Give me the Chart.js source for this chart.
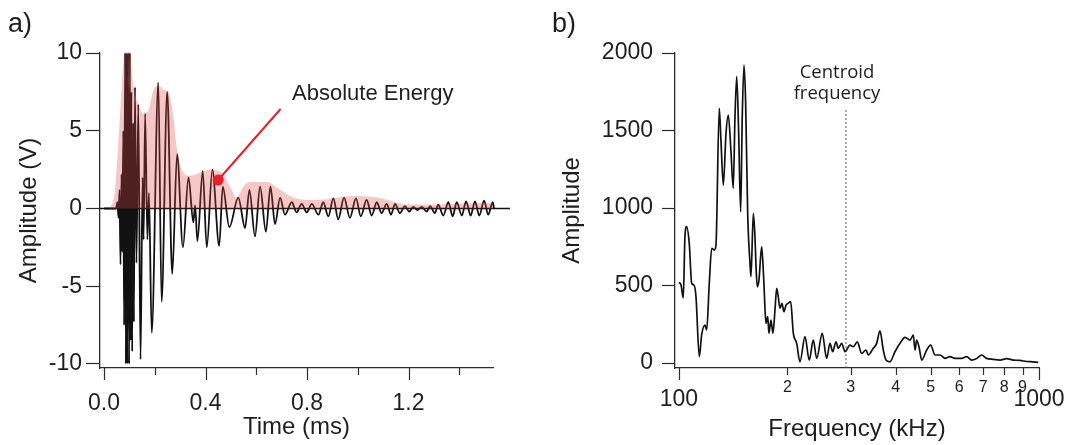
<!DOCTYPE html>
<html>
<head>
<meta charset="utf-8">
<title>Waveform and spectrum</title>
<script src="https://cdn.jsdelivr.net/npm/chart.js@4.4.1/dist/chart.umd.min.js"></script>
<style>
  html, body { margin: 0; padding: 0; background: #fff; }
  body { width: 1073px; height: 445px; position: relative; overflow: hidden;
         font-family: "Liberation Sans", Arial, sans-serif; color: #1e1e1e; }
  canvas { position: absolute; top: 0; }
  #chartA { left: 0; }
  #chartB { left: 540px; }
  .txt { position: absolute; white-space: nowrap; line-height: 1; }
  .panel-tag { font-size: 27px; top: 10px; }
  #energyLabel { left: 292px; top: 82px; font-size: 22px; }
  #centroidLabel { left: 777px; top: 60px; width: 120px; text-align: center;
                   font-family: "Open Sans", sans-serif; font-size: 18.5px; line-height: 21px; }
</style>
</head>
<body>
<canvas id="chartA" width="540" height="445"></canvas>
<canvas id="chartB" width="533" height="445"></canvas>
<div class="txt panel-tag" style="left:8px">a)</div>
<div class="txt panel-tag" style="left:552px">b)</div>
<div class="txt" id="energyLabel">Absolute Energy</div>
<div class="txt" id="centroidLabel">Centroid<br>frequency</div>
<script>
// ---- panel a: time signal (ms, V) ----
const waveTime = [0, 0.047, 0.053, 0.057, 0.061, 0.065, 0.069, 0.072, 0.076, 0.079,
  0.083, 0.086, 0.089, 0.092, 0.095, 0.099, 0.102, 0.105, 0.108, 0.111,
  0.115, 0.118, 0.122, 0.128, 0.135, 0.144, 0.152, 0.156, 0.162, 0.171,
  0.177, 0.188, 0.214, 0.227, 0.249, 0.269, 0.288, 0.311, 0.333, 0.352,
  0.359, 0.368, 0.389, 0.405, 0.427, 0.454, 0.468, 0.494, 0.529, 0.556,
  0.573, 0.595, 0.615, 0.638, 0.656, 0.674, 0.694, 0.713, 0.740, 0.759,
  0.779, 0.799, 0.819, 0.845, 0.864, 0.884, 0.904, 0.923, 0.946, 0.969,
  0.993, 1.012, 1.035, 1.055, 1.075, 1.094, 1.114, 1.131, 1.147, 1.166,
  1.186, 1.203, 1.219, 1.235, 1.252, 1.272, 1.285, 1.304, 1.317, 1.337,
  1.357, 1.374, 1.390, 1.410, 1.427, 1.445, 1.462, 1.479, 1.498, 1.514,
  1.532, 1.537];
const waveAmp = [0, 0, 0.4, -0.6, 1.2, -3.6, 2.2, -2.8, 5.0, -7.5,
  10, -10, 10, -10, 10, -10, 10, -8.5, 7.5, -9.2,
  5.5, -7.3, 7.8, -3.5, 6.7, -9.7, 2.0, -2.0, 6.1, -2.0,
  1.0, -8.0, 8.1, -6.0, 7.5, -4.2, 3.5, -2.5, 2.0, -0.9,
  0.2, -2.1, 2.4, -2.5, 2.5, -2.4, 1.4, -1.2, 0.7, -1.25,
  1.2, -1.8, 1.4, -1.5, 1.4, -1.0, 0.7, -0.4, 0.4, -0.25,
  0.3, -0.25, 0.3, -0.4, 0.4, -0.5, 0.65, -0.7, 0.7, -0.6,
  0.65, -0.5, 0.55, -0.45, 0.4, -0.3, 0.3, -0.4, 0.3, -0.3,
  0.15, -0.2, 0.1, -0.1, 0.1, -0.2, 0.15, -0.3, 0.25, -0.45,
  0.4, -0.5, 0.4, -0.45, 0.45, -0.45, 0.45, -0.45, 0.5, -0.4,
  0.4, 0];

// absolute energy envelope (shaded)
const envTime = [0.024, 0.043, 0.056, 0.070, 0.083, 0.102, 0.115, 0.135, 0.155, 0.175,
  0.194, 0.214, 0.240, 0.253, 0.273, 0.286, 0.306, 0.339, 0.378, 0.418,
  0.464, 0.497, 0.523, 0.549, 0.575, 0.641, 0.694, 0.746, 0.812, 0.878,
  0.982, 1.075, 1.140, 1.193, 1.298, 1.403, 1.534, 1.550];
const envAmp = [0, 1.1, 4.1, 7.8, 10, 10, 8.0, 6.7, 6.1, 6.3,
  7.6, 7.9, 7.6, 7.5, 6.0, 4.0, 2.5, 2.1, 2.3, 2.5,
  2.3, 1.4, 0.7, 1.4, 1.7, 1.7, 1.2, 0.7, 0.55, 0.6,
  0.8, 0.7, 0.45, 0.25, 0.25, 0.3, 0.35, 0];

// annotation: marker on envelope and end of pointer line
const energyMarker = [0.450, 1.83];
const energyPointerEnd = [0.696, 6.4];

const timeTicks = [0, 0.2, 0.4, 0.6, 0.8, 1.0, 1.2, 1.4];
const timeLabels = ['0.0', '', '0.4', '', '0.8', '', '1.2', ''];
const voltTicks = [-10, -5, 0, 5, 10];

// ---- panel b: spectrum (kHz, amplitude) ----
const freqKHz = [100, 101.3, 102.8, 103.9, 105.0, 106.8, 108.5, 110.1, 111.5, 113.9,
  115.6, 118.1, 119.4, 121.4, 123.3, 125.3, 126.7, 129.4, 130.8, 132.8,
  135.1, 137.1, 139.4, 141.5, 143.1, 144.7, 146.5, 148.4, 149.9, 151.6,
  153.2, 155.2, 157.5, 158.5, 160.9, 162.6, 163.7, 165.0, 166.8, 169.7,
  171.1, 172.5, 174.4, 176.4, 177.8, 180.1, 182.4, 184.8, 186.8, 188.7,
  190.8, 193.2, 195.7, 198.3, 200.8, 204.3, 207.8, 212.3, 216.8, 223.9,
  230.1, 236.1, 241.3, 250.0, 257.2, 262.7, 267.3, 273.0, 277.0, 283.1,
  289.2, 298.5, 304.9, 312.8, 321.7, 330.7, 335.6, 346.5, 354.1, 361.6,
  369.4, 375.8, 385.5, 398.1, 411.1, 424.5, 438.3, 447.6, 452.5, 457.4,
  465.1, 472.3, 487.7, 500.3, 514.2, 530.9, 548.2, 566.0, 584.4, 609.9,
  629.7, 650.2, 671.4, 693.2, 715.7, 746.7, 779.3, 813.5, 848.3, 885.5,
  924.4, 964.3, 995.0];
const specAmp = [520, 505, 420, 815, 880, 772, 514, 503, 428, 41,
  181, 245, 213, 514, 740, 729, 761, 1643, 1438, 1148,
  1481, 1600, 1374, 1127, 1589, 1847, 1483, 976, 1589, 1922,
  1675, 965, 643, 557, 965, 815, 621, 492, 535, 750,
  643, 471, 256, 299, 192, 277, 192, 342, 482, 428,
  353, 385, 331, 374, 385, 396, 192, 127, 8, 170,
  19, 148, 30, 192, 30, 127, 73, 137, 95, 127,
  73, 116, 105, 137, 62, 84, 52, 95, 127, 208,
  84, 19, 8, 73, 127, 166, 148, 181, 84, 148,
  95, 19, 84, 116, 52, 52, 30, 41, 30, 30,
  41, 19, 30, 52, 30, 24, 19, 28, 19, 17,
  10, 8, 4];

const centroidKHz = 291;
const centroidTop = 1640;

const freqTicks = [100, 200, 300, 400, 500, 600, 700, 800, 900, 1000];
const freqLabels = [['', '100'], '2', '3', '4', '5', '6', '7', '8', '9', ['', '1000']];
const specTicks = [0, 500, 1000, 1500, 2000];

// ---- styling ----
const axisColor = '#2b2b2b';
const textColor = '#1e1e1e';
const pink = 'rgba(225, 70, 70, 0.3)';
const red = '#e3202b';

Chart.defaults.font.family = '"Liberation Sans", Arial, sans-serif';
Chart.defaults.color = textColor;

const pts = (xs, ys) => xs.map((x, i) => ({ x: x, y: ys[i] }));

// Igor style tick marks on the x axis: long for major, short for minor
const xTickMarks = {
  id: 'xTickMarks',
  afterDraw(chart) {
    const s = chart.scales.x;
    const ctx = chart.ctx;
    ctx.save();
    ctx.strokeStyle = axisColor;
    ctx.lineWidth = 1.2;
    s.ticks.forEach(t => {
      const px = Math.round(s.getPixelForValue(t.value)) + 0.5;
      ctx.beginPath();
      ctx.moveTo(px, s.top);
      ctx.lineTo(px, s.top + (t.major ? 12 : 7));
      ctx.stroke();
    });
    ctx.restore();
  }
};

const titleFont = { size: 24, lineHeight: 1.2 };
const tickFont = { size: 23, lineHeight: 1.2 };

const timeMin = -0.0158, timeMax = 1.533;
const voltMin = -10.26, voltMax = 10;

new Chart(document.getElementById('chartA'), {
  type: 'scatter',
  data: {
    datasets: [
      {
        // pointer to envelope
        data: [{ x: energyMarker[0], y: energyMarker[1] }, { x: energyPointerEnd[0], y: energyPointerEnd[1] }],
        showLine: true,
        borderColor: red,
        borderWidth: 2,
        pointRadius: [5.5, 0],
        pointBackgroundColor: red,
        pointBorderWidth: 0,
        order: 1
      },
      {
        data: pts(envTime, envAmp),
        showLine: true,
        borderWidth: 0,
        borderColor: 'rgba(0,0,0,0)',
        backgroundColor: pink,
        fill: 'origin',
        pointRadius: 0,
        cubicInterpolationMode: 'monotone',
        clip: { left: 0, top: 2, right: 20, bottom: 0 },
        order: 2
      },
      {
        data: pts(waveTime, waveAmp),
        showLine: true,
        borderColor: '#111',
        borderWidth: 1.8,
        pointRadius: 0,
        cubicInterpolationMode: 'monotone',
        clip: 2,
        order: 3
      },
      {
        // zero line
        data: [{ x: timeMin, y: 0 }, { x: 1.6, y: 0 }],
        showLine: true,
        borderColor: '#111',
        borderWidth: 1.3,
        pointRadius: 0,
        clip: { left: 0, top: 0, right: 20, bottom: 0 },
        order: 4
      }
    ]
  },
  options: {
    responsive: false,
    animation: false,
    events: [],
    layout: { padding: { top: 53, right: 47, left: 0, bottom: 0 } },
    plugins: { legend: { display: false }, tooltip: { enabled: false } },
    scales: {
      x: {
        type: 'linear',
        min: timeMin,
        max: timeMax,
        afterBuildTicks: s => { s.ticks = timeTicks.map((v, i) => ({ value: v, major: i % 2 === 0 })); },
        afterFit: s => { s.height = 77; },
        ticks: {
          autoSkip: false, maxRotation: 0, padding: 14, font: tickFont, color: textColor,
          callback: (v, i) => timeLabels[i]
        },
        grid: { display: false },
        border: { display: true, color: axisColor, width: 1.3 },
        title: { display: true, text: 'Time (ms)', font: titleFont, color: textColor, padding: { top: 0, bottom: 3 } }
      },
      y: {
        min: voltMin,
        max: voltMax,
        afterBuildTicks: s => { s.ticks = voltTicks.map(v => ({ value: v })); },
        afterFit: s => { s.width = 100; },
        ticks: { padding: 4, font: tickFont, color: textColor, callback: v => String(v) },
        grid: { drawOnChartArea: false, drawTicks: true, tickLength: 14, tickColor: axisColor, tickWidth: 1.2 },
        border: { display: true, color: axisColor, width: 1.3 },
        title: { display: true, text: 'Amplitude (V)', font: titleFont, color: textColor, padding: { top: 15, bottom: 0 } }
      }
    }
  },
  plugins: [xTickMarks]
});

new Chart(document.getElementById('chartB'), {
  type: 'scatter',
  data: {
    datasets: [
      {
        data: pts(freqKHz, specAmp),
        showLine: true,
        borderColor: '#111',
        borderWidth: 1.7,
        pointRadius: 0,
        cubicInterpolationMode: 'monotone',
        order: 1
      },
      {
        // centroid frequency marker
        data: [{ x: centroidKHz, y: -32 }, { x: centroidKHz, y: centroidTop }],
        showLine: true,
        borderColor: '#555',
        borderWidth: 1,
        borderDash: [2, 2],
        pointRadius: 0,
        order: 2
      }
    ]
  },
  options: {
    responsive: false,
    animation: false,
    events: [],
    layout: { padding: { top: 53, right: 34, left: 0, bottom: 0 } },
    plugins: { legend: { display: false }, tooltip: { enabled: false } },
    scales: {
      x: {
        type: 'logarithmic',
        min: 97.5,
        max: 1000,
        afterBuildTicks: s => { s.ticks = freqTicks.map(v => ({ value: v, major: v === 100 || v === 1000 })); },
        afterFit: s => { s.height = 77; },
        ticks: {
          autoSkip: false, maxRotation: 0, padding: 2, color: textColor,
          font: c => (c.tick && c.tick.major) ? { size: 23, lineHeight: 0.63 } : { size: 16, lineHeight: 1.2 },
          callback: (v, i) => freqLabels[i]
        },
        grid: { display: false },
        border: { display: true, color: axisColor, width: 1.3 },
        title: { display: true, text: 'Frequency (kHz)', font: titleFont, color: textColor, padding: { top: 0, bottom: 1 } }
      },
      y: {
        min: -32,
        max: 2000,
        afterBuildTicks: s => { s.ticks = specTicks.map(v => ({ value: v })); },
        afterFit: s => { s.width = 135; },
        ticks: { padding: 9, font: tickFont, color: textColor, callback: v => String(v) },
        grid: { drawOnChartArea: false, drawTicks: true, tickLength: 13, tickColor: axisColor, tickWidth: 1.2 },
        border: { display: true, color: axisColor, width: 1.3 },
        title: { display: true, text: 'Amplitude', font: titleFont, color: textColor, padding: { top: 18, bottom: 0 } }
      }
    }
  },
  plugins: [xTickMarks]
});
</script>
</body>
</html>
